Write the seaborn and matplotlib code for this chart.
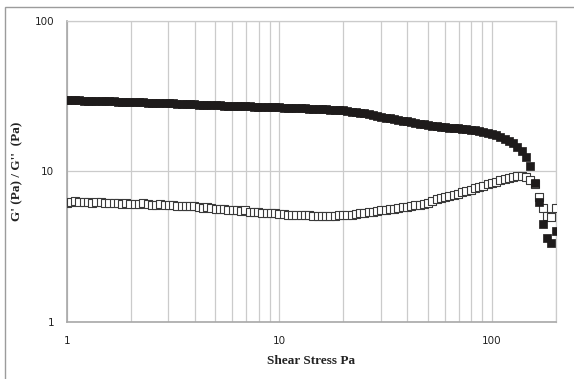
import pandas as pd
import matplotlib
matplotlib.use("Agg")
import matplotlib.pyplot as plt
import seaborn as sns
from matplotlib.ticker import LogLocator, NullFormatter
from matplotlib.patches import Rectangle

# style
sns.set_style("white")
plt.rcParams["font.family"] = ["DejaVu Sans"]

# ---- data (stress sweep, Pa) ----
stress = [
    1.000, 1.047, 1.096, 1.148, 1.202, 1.259, 1.318, 1.380, 1.445, 1.514,
    1.585, 1.660, 1.738, 1.820, 1.905, 1.995, 2.089, 2.188, 2.291, 2.399,
    2.512, 2.630, 2.754, 2.884, 3.020, 3.162, 3.311, 3.467, 3.631, 3.802,
    3.981, 4.169, 4.365, 4.571, 4.786, 5.012, 5.248, 5.495, 5.754, 6.026,
    6.310, 6.607, 6.918, 7.244, 7.586, 7.943, 8.318, 8.710, 9.120, 9.550,
    10.00, 10.47, 10.96, 11.48, 12.02, 12.59, 13.18, 13.80, 14.45, 15.14,
    15.85, 16.60, 17.38, 18.20, 19.05, 19.95, 20.89, 21.88, 22.91, 23.99,
    25.12, 26.30, 27.54, 28.84, 30.20, 31.62, 33.11, 34.67, 36.31, 38.02,
    39.81, 41.69, 43.65, 45.71, 47.86, 50.12, 52.48, 54.95, 57.54, 60.26,
    63.10, 66.07, 69.18, 72.44, 75.86, 79.43, 83.18, 87.10, 91.20, 95.50,
    100.0, 104.7, 109.6, 114.8, 120.2, 125.9, 131.8, 138.0, 144.5, 151.4,
    158.5, 166.0, 173.8, 182.0, 190.5, 199.5,
]

g_storage = [
    29.9, 29.7, 29.8, 29.6, 29.4, 29.5, 29.4, 29.3, 29.4, 29.3,
    29.3, 29.2, 29.1, 29.1, 29.0, 29.0, 28.9, 28.8, 28.8, 28.7,
    28.6, 28.6, 28.5, 28.4, 28.4, 28.3, 28.2, 28.1, 28.0, 27.9,
    27.9, 27.8, 27.7, 27.7, 27.6, 27.5, 27.5, 27.4, 27.3, 27.3,
    27.2, 27.1, 27.1, 27.0, 26.9, 26.9, 26.8, 26.7, 26.7, 26.6,
    26.6, 26.5, 26.4, 26.4, 26.3, 26.2, 26.2, 26.1, 26.0, 25.9,
    25.9, 25.8, 25.7, 25.6, 25.5, 25.4, 25.2, 25.0, 24.8, 24.5,
    24.3, 24.0, 23.7, 23.4, 23.1, 22.8, 22.5, 22.2, 21.9, 21.7,
    21.5, 21.3, 21.0, 20.8, 20.6, 20.3, 20.1, 20.0, 19.8, 19.7,
    19.5, 19.4, 19.3, 19.1, 19.0, 18.8, 18.7, 18.5, 18.3, 18.1,
    17.8, 17.4, 17.0, 16.5, 16.0, 15.4, 14.6, 13.7, 12.4, 10.8,
    8.4, 6.3, 4.45, 3.6, 3.35, 4.0,
]

g_loss = [
    6.2, 6.3, 6.35, 6.25, 6.3, 6.25, 6.2, 6.3, 6.25, 6.2,
    6.2, 6.15, 6.2, 6.1, 6.15, 6.1, 6.05, 6.1, 6.15, 6.05,
    6.0, 6.0, 6.05, 5.95, 6.0, 5.95, 5.9, 5.9, 5.85, 5.85,
    5.85, 5.8, 5.7, 5.75, 5.7, 5.6, 5.6, 5.65, 5.55, 5.5,
    5.5, 5.45, 5.5, 5.4, 5.35, 5.35, 5.3, 5.3, 5.25, 5.25,
    5.22, 5.2, 5.15, 5.15, 5.12, 5.1, 5.1, 5.1, 5.08, 5.08,
    5.08, 5.08, 5.08, 5.08, 5.1, 5.1, 5.12, 5.15, 5.2, 5.25,
    5.3, 5.35, 5.4, 5.45, 5.5, 5.55, 5.6, 5.65, 5.7, 5.75,
    5.8, 5.85, 5.95, 6.0, 6.1, 6.2, 6.35, 6.5, 6.6, 6.75,
    6.85, 7.0, 7.1, 7.3, 7.4, 7.55, 7.7, 7.85, 8.0, 8.2,
    8.35, 8.55, 8.75, 8.9, 9.05, 9.2, 9.3, 9.3, 9.2, 8.8,
    8.2, 6.8, 5.7, 5.07, 4.95, 5.67,
]

x_ticks = [1, 10, 100]
x_tick_labels = ["1", "10", "100"]
y_ticks = [1, 10, 100]
y_tick_labels = ["1", "10", "100"]

df = pd.DataFrame({"stress": stress, "Gp": g_storage, "Gpp": g_loss})

# ---- figure ----
fig = plt.figure(figsize=(5.74, 3.79), dpi=100)
ax = fig.add_axes([0.1162, 0.1512, 0.8524, 0.7934])

# G'' open squares, G' filled squares on top
sns.scatterplot(data=df, x="stress", y="Gpp", marker="s", s=29,
                color="white", edgecolor="#3a3a3a", linewidth=0.8,
                ax=ax, zorder=3, legend=False)
sns.scatterplot(data=df, x="stress", y="Gp", marker="s", s=30,
                color="#1e1b1b", edgecolor="#1e1b1b", linewidth=0.5,
                ax=ax, zorder=4, legend=False)

ax.set_xscale("log")
ax.set_yscale("log")
ax.set_xlim(1, 200)
ax.set_ylim(1, 100)

ax.set_xticks(x_ticks, labels=x_tick_labels)
ax.set_yticks(y_ticks, labels=y_tick_labels)
ax.xaxis.set_minor_locator(LogLocator(base=10, subs=range(2, 10)))
ax.yaxis.set_minor_locator(LogLocator(base=10, subs=range(2, 10)))
ax.xaxis.set_minor_formatter(NullFormatter())
ax.yaxis.set_minor_formatter(NullFormatter())

# grid: all vertical lines, horizontal only at decades
ax.set_axisbelow(True)
ax.xaxis.grid(True, which="both", color="#cbcbcb", lw=0.9)
ax.yaxis.grid(True, which="major", color="#cbcbcb", lw=0.9)

for side in ["left", "bottom"]:
    ax.spines[side].set_color("#a8a8a8")
    ax.spines[side].set_linewidth(1.2)
for side in ["top", "right"]:
    ax.spines[side].set_color("#cbcbcb")
    ax.spines[side].set_linewidth(0.9)

ax.tick_params(axis="x", which="both", length=0, pad=10, labelsize=7.5,
               labelcolor="#222222")
ax.tick_params(axis="y", which="major", length=0, pad=9, labelsize=7.5,
               labelcolor="#222222")
ax.tick_params(axis="y", which="minor", direction="in", length=3,
               width=0.8, color="#a8a8a8")

ax.set_xlabel("Shear Stress Pa", family="Liberation Serif",
              fontweight="bold", fontsize=9.5, labelpad=7, color="#222222")
ax.set_ylabel("G' (Pa) / G''  (Pa)", family="Liberation Serif",
              fontweight="bold", fontsize=9.5, labelpad=8, color="#222222")

# chart-area frame, like the spreadsheet export
fig.patches.append(Rectangle((5 / 574, -0.05), 1.2, (379 - 7) / 379 + 0.05,
                             transform=fig.transFigure, fill=False,
                             edgecolor="#9c9c9c", lw=1))

fig.savefig("out.png", dpi=100)
